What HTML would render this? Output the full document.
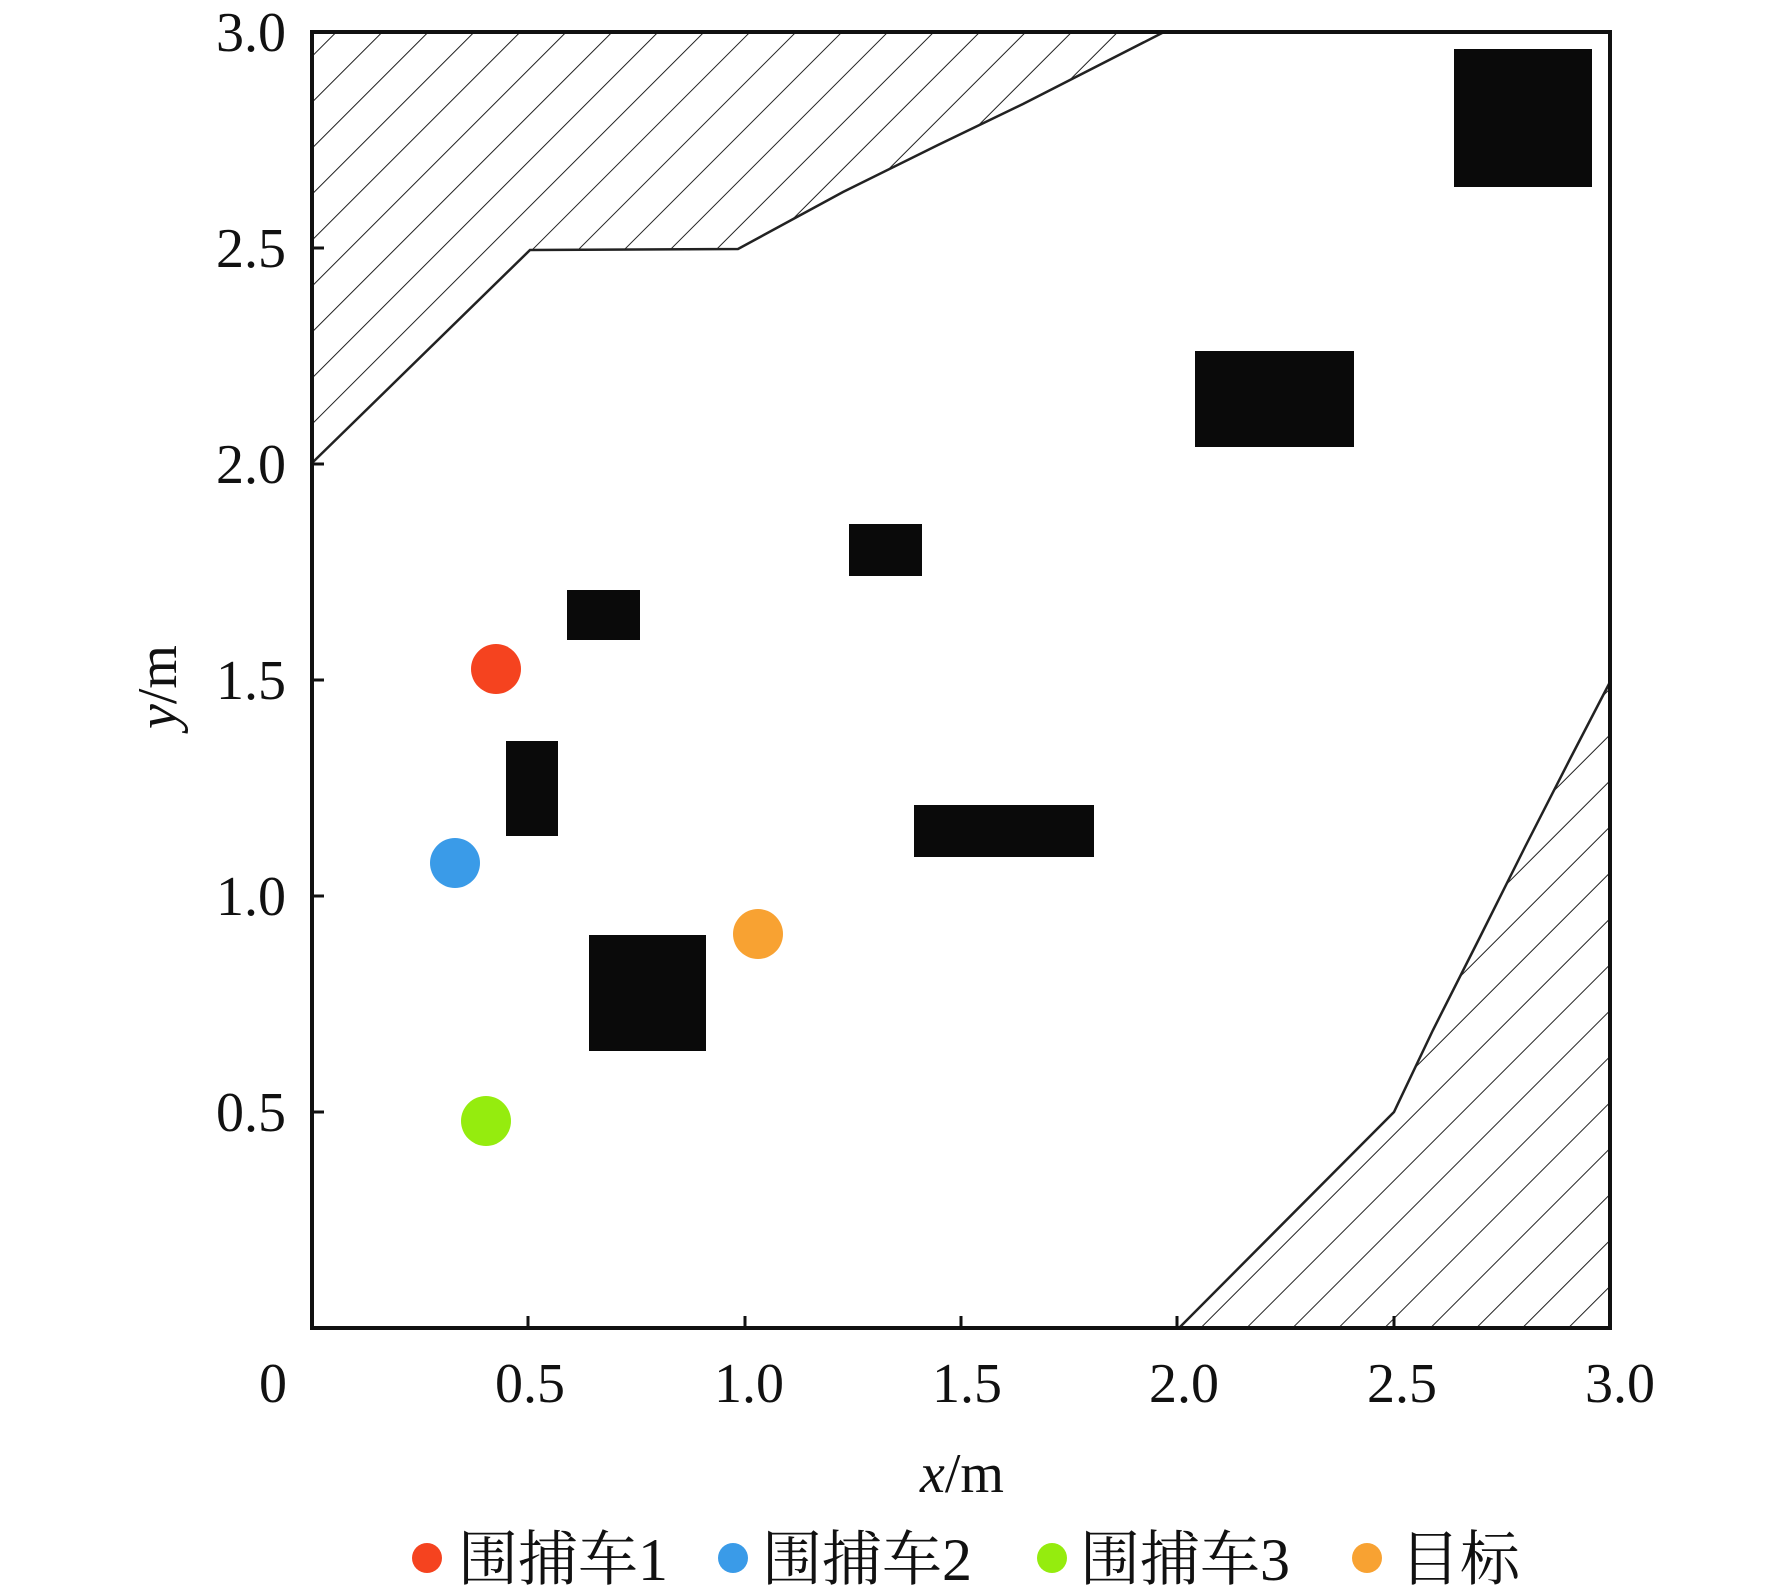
<!DOCTYPE html>
<html><head><meta charset="utf-8"><style>
html,body{margin:0;padding:0;background:#fff;}
svg{display:block;}
text{font-family:"Liberation Serif","Noto Serif CJK SC",serif;fill:#111;}
</style></head><body>
<svg width="1772" height="1596" viewBox="0 0 1772 1596" xmlns="http://www.w3.org/2000/svg">
<defs>
<pattern id="h" patternUnits="userSpaceOnUse" width="32.5" height="32.5" patternTransform="rotate(45)">
<line x1="0" y1="0" x2="0" y2="32.5" stroke="#222" stroke-width="2"/>
</pattern>
</defs>
<polygon points="312,463 530,250 738,249 843,192 938,145 1023,104 1164,32 312,32" fill="url(#h)" stroke="#222" stroke-width="2.5"/>
<polygon points="1179,1328 1394,1112 1433,1030 1480,937 1525,847 1570,759 1610,682 1610,1328" fill="url(#h)" stroke="#222" stroke-width="2.5"/>
<g fill="#0a0a0a">
<rect x="1454" y="49" width="138" height="138"/>
<rect x="1195" y="351" width="159" height="96"/>
<rect x="849" y="524" width="73" height="52"/>
<rect x="567" y="590" width="73" height="50"/>
<rect x="506" y="741" width="52" height="95"/>
<rect x="914" y="805" width="180" height="52"/>
<rect x="589" y="935" width="117" height="116"/>
</g>
<circle cx="496" cy="669" r="25" fill="#f5431f"/>
<circle cx="455" cy="863" r="25" fill="#3a9be8"/>
<circle cx="486" cy="1121" r="25" fill="#95ec0e"/>
<circle cx="758" cy="934" r="25" fill="#f8a232"/>
<rect x="312" y="32" width="1298" height="1296" fill="none" stroke="#111" stroke-width="4"/>
<g stroke="#111" stroke-width="3">
<line x1="528" y1="1328" x2="528" y2="1316"/><line x1="745" y1="1328" x2="745" y2="1316"/>
<line x1="961" y1="1328" x2="961" y2="1316"/><line x1="1177" y1="1328" x2="1177" y2="1316"/>
<line x1="1394" y1="1328" x2="1394" y2="1316"/>
<line x1="312" y1="1112" x2="324" y2="1112"/><line x1="312" y1="896" x2="324" y2="896"/>
<line x1="312" y1="680" x2="324" y2="680"/><line x1="312" y1="464" x2="324" y2="464"/>
<line x1="312" y1="248" x2="324" y2="248"/>
</g>
<g font-size="56" text-anchor="end">
<text x="286" y="51">3.0</text>
<text x="286" y="267">2.5</text>
<text x="286" y="483">2.0</text>
<text x="286" y="699">1.5</text>
<text x="286" y="915">1.0</text>
<text x="286" y="1131">0.5</text>
</g>
<g font-size="56" text-anchor="middle">
<text x="273" y="1402">0</text>
<text x="530" y="1402">0.5</text>
<text x="749" y="1402">1.0</text>
<text x="967" y="1402">1.5</text>
<text x="1184" y="1402">2.0</text>
<text x="1402" y="1402">2.5</text>
<text x="1620" y="1402">3.0</text>
<text x="962" y="1492"><tspan font-style="italic">x</tspan>/m</text>
</g>
<text font-size="56" text-anchor="middle" transform="translate(176,687) rotate(-90)"><tspan font-style="italic">y</tspan>/m</text>
<circle cx="427" cy="1558" r="15" fill="#f5431f"/>
<circle cx="733" cy="1558" r="15" fill="#3a9be8"/>
<circle cx="1052" cy="1558" r="15" fill="#95ec0e"/>
<circle cx="1367" cy="1558" r="15" fill="#f8a232"/>
<g font-size="60">
<text x="458" y="1580">围捕车1</text>
<text x="762" y="1580">围捕车2</text>
<text x="1080" y="1580">围捕车3</text>
<text x="1400" y="1580">目标</text>
</g>
</svg>
</body></html>
